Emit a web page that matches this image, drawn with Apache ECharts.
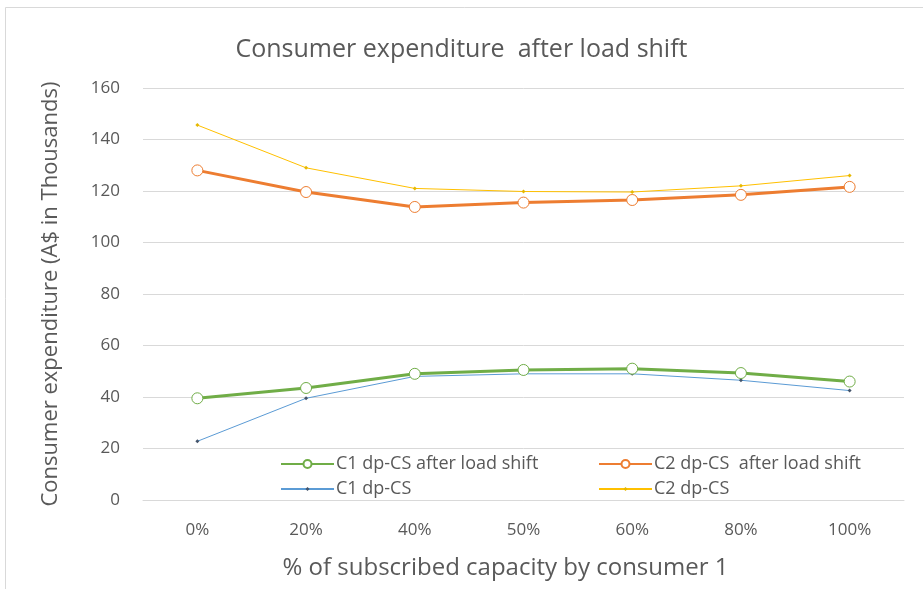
<!DOCTYPE html>
<html><head><meta charset="utf-8">
<script src="https://cdn.jsdelivr.net/npm/echarts@6/dist/echarts.min.js"></script>
<style>html,body{margin:0;padding:0;background:#fff}#c{width:923px;height:589px}</style>
</head><body><div id="c"></div>
<script>
const categories = ['0%','20%','40%','50%','60%','80%','100%'];
const c1After = [39.5, 43.5, 49, 50.5, 51, 49.3, 46];
const c2After = [128, 119.6, 113.8, 115.5, 116.5, 118.5, 121.6];
const c1dp = [22.8, 39.5, 48, 49, 49, 46.5, 42.5];
const c2dp = [145.6, 129, 121, 119.8, 119.6, 122, 126];
const yTicks = [0,20,40,60,80,100,120,140,160];
const names = ['C1 dp-CS after load shift','C2 dp-CS  after load shift','C1 dp-CS','C2 dp-CS'];

const font = 'Open Sans';
const txt = '#595959';
function leg(name, left, top, ih){
  return {left:left, top:top, padding:0, itemWidth:53, itemHeight:ih,
    textStyle:{fontFamily:font,fontSize:18,color:txt,padding:[0,0,0,-3]}, data:[name]};
}
const chart = echarts.init(document.getElementById('c'));
chart.setOption({
  animation:false,
  backgroundColor:'#fff',
  graphic:[{type:'rect',shape:{x:5.5,y:7.5,width:940,height:600},style:{fill:'none',stroke:'#d9d9d9',lineWidth:1},silent:true}],
  title:{text:'Consumer expenditure  after load shift',left:'center',top:32,
    textStyle:{fontFamily:font,fontSize:25,fontWeight:'normal',color:txt}},
  grid:{left:143,right:19,top:88,bottom:89},
  legend:[
    leg(names[0],280,455,10),
    leg(names[2],280,480,5),
    leg(names[1],598,455,10),
    leg(names[3],598,480,5)
  ],
  xAxis:{type:'category',data:categories,boundaryGap:true,
    name:'% of subscribed capacity by consumer 1',nameLocation:'middle',nameGap:56,
    nameTextStyle:{fontFamily:font,fontSize:24,color:txt,padding:[0,36,0,0]},
    axisLine:{lineStyle:{color:'#d9d9d9'}},axisTick:{show:false},
    axisLabel:{fontFamily:font,fontSize:17,color:txt,margin:22}},
  yAxis:{type:'value',min:0,max:160,interval:20,
    name:'Consumer expenditure (A$ in Thousands)',nameLocation:'middle',nameGap:81,
    nameTextStyle:{fontFamily:font,fontSize:22,color:txt},
    axisLine:{show:false},axisTick:{show:false},
    axisLabel:{fontFamily:font,fontSize:17,color:txt,margin:23,
      formatter:v=>yTicks.includes(v)?String(v):''},
    splitLine:{lineStyle:{color:'#d9d9d9'}}},
  series:[
    {name:names[0],type:'line',data:c1After,z:4,
     lineStyle:{color:'#70AD47',width:3},itemStyle:{color:'#fff',borderColor:'#70AD47',borderWidth:1},
     color:'#70AD47',symbol:'circle',symbolSize:11,showAllSymbol:true},
    {name:names[1],type:'line',data:c2After,z:4,
     lineStyle:{color:'#ED7D31',width:3},itemStyle:{color:'#fff',borderColor:'#ED7D31',borderWidth:1},
     color:'#ED7D31',symbol:'circle',symbolSize:11,showAllSymbol:true},
    {name:names[2],type:'line',data:c1dp,z:3,
     lineStyle:{color:'#5B9BD5',width:1},itemStyle:{color:'#44546A'},
     color:'#5B9BD5',symbol:'diamond',symbolSize:4,showAllSymbol:true},
    {name:names[3],type:'line',data:c2dp,z:3,
     lineStyle:{color:'#FFC000',width:1},itemStyle:{color:'#E6B800'},
     color:'#FFC000',symbol:'diamond',symbolSize:4,showAllSymbol:true}
  ]
});
</script></body></html>
